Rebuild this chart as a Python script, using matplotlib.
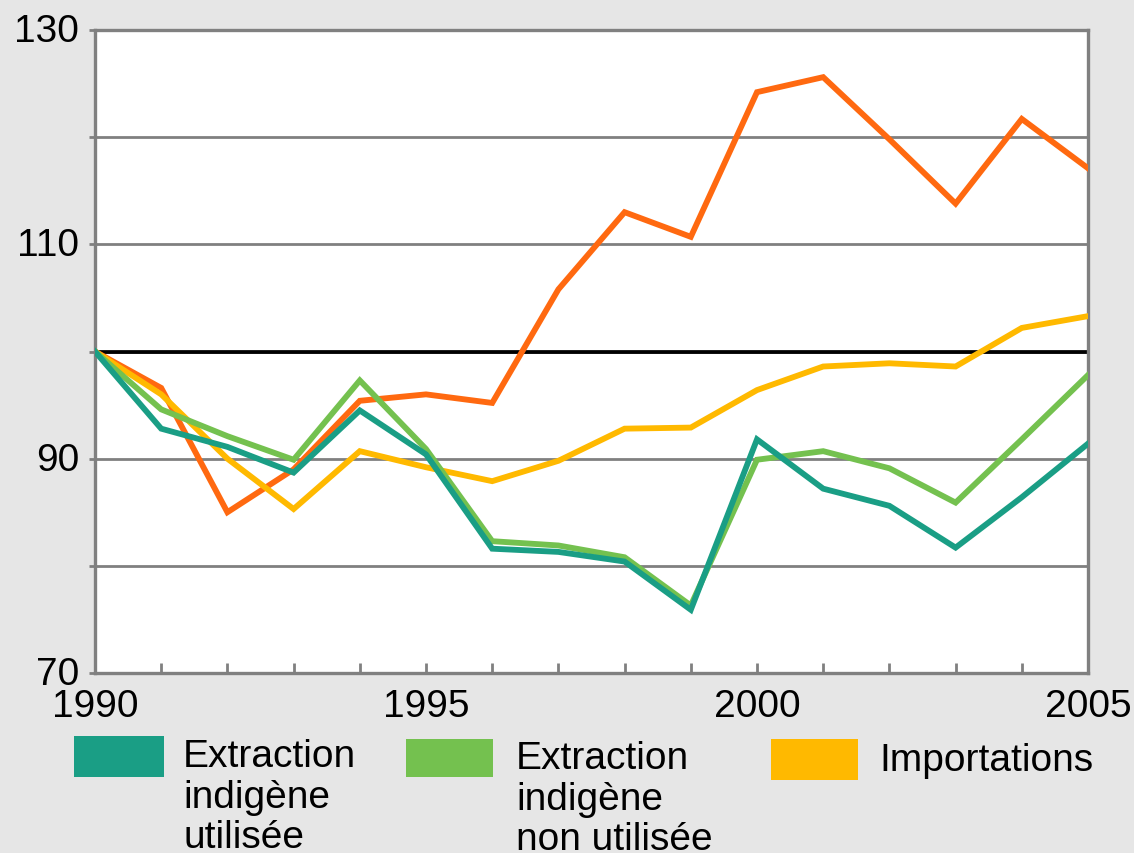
import matplotlib
matplotlib.use('Agg')
import matplotlib.pyplot as plt
from matplotlib.patches import Rectangle
from matplotlib.transforms import ScaledTranslation

years = list(range(1990, 2006))
extraction_utilisee = [100, 92.8, 91.1, 88.7, 94.5, 90.4, 81.6, 81.3, 80.4, 75.9,
                       91.8, 87.2, 85.6, 81.7, 86.4, 91.4]
extraction_non_utilisee = [100, 94.6, 92.1, 89.9, 97.3, 90.9, 82.3, 81.9, 80.8, 76.3,
                           89.9, 90.7, 89.1, 85.9, 91.8, 97.8]
importations = [100, 96.0, 90.0, 85.3, 90.7, 89.2, 87.9, 89.8, 92.8, 92.9,
                96.4, 98.6, 98.9, 98.6, 102.2, 103.3]
serie_orange = [100, 96.6, 85.0, 89.0, 95.4, 96.0, 95.2, 105.8, 113.0, 110.7,
                124.2, 125.6, 119.8, 113.8, 121.7, 117.1]
reference = 100

y_ticks = [70, 80, 90, 100, 110, 120, 130]
y_labels = ['70', '', '90', '', '110', '', '130']
x_ticks = years
x_labels = ['1990', '', '', '', '', '1995', '', '', '', '', '2000', '', '', '', '', '2005']

legend_labels = ['Extraction\nindigène\nutilisée',
                 'Extraction\nindigène\nnon utilisée',
                 'Importations']

C_TEAL = '#1a9e85'
C_GREEN = '#74c14f'
C_YELLOW = '#ffb900'
C_ORANGE = '#ff6910'
C_GRAY = '#808080'
BG = '#e6e6e6'

plt.rcParams['font.family'] = ['Liberation Sans', 'DejaVu Sans']

W, H = 1134, 854
fig = plt.figure(figsize=(W / 100, H / 100), dpi=100, facecolor=BG)
ax = fig.add_axes([95 / W, 1 - 674 / H, (1088 - 95) / W, (674 - 31) / H])
ax.set_facecolor('white')

ax.set_xlim(1990, 2005)
ax.set_ylim(70, 130)

ax.set_yticks(y_ticks)
ax.set_yticklabels(y_labels)
ax.set_xticks(x_ticks)
ax.set_xticklabels(x_labels)

ax.yaxis.grid(True, color=C_GRAY, lw=2.0, zorder=1)
ax.xaxis.grid(False)
ax.set_axisbelow(True)

for s in ax.spines.values():
    s.set_color(C_GRAY)
    s.set_linewidth(2.4)

ax.tick_params(axis='x', direction='in', length=7, width=2, color=C_GRAY,
               labelsize=28, pad=11)
ax.tick_params(axis='y', direction='out', length=4.3, width=2, color=C_GRAY,
               labelsize=28, pad=7)
off = ScaledTranslation(0, 3 / 100, fig.dpi_scale_trans)
for lbl in ax.get_yticklabels():
    lbl.set_transform(lbl.get_transform() + off)

ax.axhline(reference, color='black', lw=2.7, zorder=2, solid_capstyle='projecting')

lw = 4.2
ax.plot(years, serie_orange, color=C_ORANGE, lw=lw, zorder=3, solid_joinstyle='miter')
ax.plot(years, importations, color=C_YELLOW, lw=lw, zorder=4, solid_joinstyle='miter')
ax.plot(years, extraction_non_utilisee, color=C_GREEN, lw=lw, zorder=5, solid_joinstyle='miter')
ax.plot(years, extraction_utilisee, color=C_TEAL, lw=lw, zorder=6, solid_joinstyle='miter')

# Legend (manual, handles aligned with the first text line)
line_step = 41  # px between baselines
legend_items = [
    (C_TEAL, (74, 737, 164, 778), (183, 766)),
    (C_GREEN, (406, 740, 493, 778), (516, 768)),
    (C_YELLOW, (771, 740, 858, 781), (879, 771)),
]
for (col, (x0, y0, x1, y1), (tx, ty)), lab in zip(legend_items, legend_labels):
    fig.add_artist(Rectangle((x0 / W, 1 - y1 / H), (x1 - x0) / W, (y1 - y0) / H,
                             transform=fig.transFigure, facecolor=col,
                             edgecolor='none'))
    n_lines = lab.count('\n')
    last_baseline = ty + n_lines * line_step
    fig.text(tx / W, 1 - last_baseline / H, lab, fontsize=28, va='baseline', ha='left',
             linespacing=1.155, color='black')

fig.savefig('out.png', dpi=100, facecolor=BG)
